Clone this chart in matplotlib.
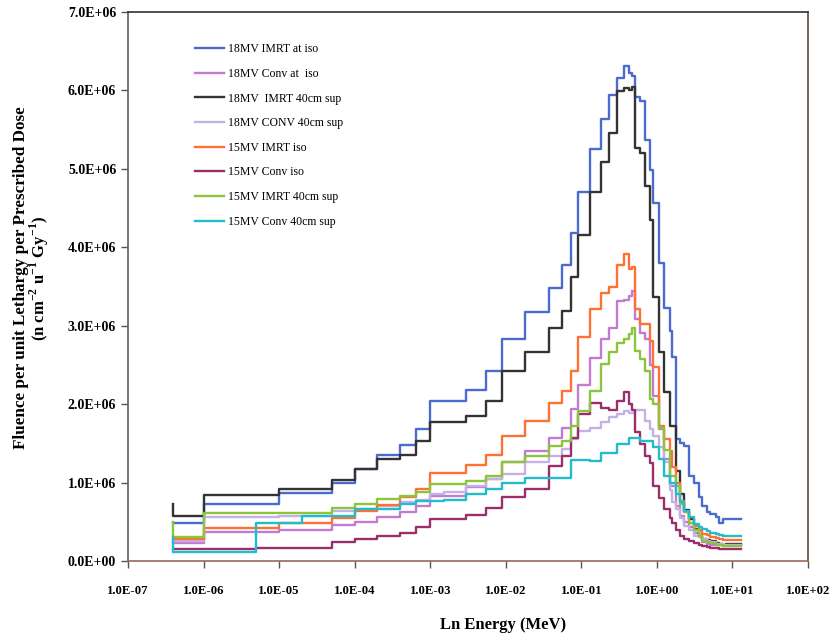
import numpy as np
import matplotlib
matplotlib.use("Agg")
import matplotlib.pyplot as plt
from matplotlib.ticker import FixedLocator, FuncFormatter, NullLocator

# energy bin edges (MeV)
edges = [4e-7, 1e-6, 5e-6, 1e-5, 2e-5, 5e-5, 1e-4, 2e-4, 4e-4, 6.5e-4, 1e-3,
         1.5e-3, 3e-3, 5.5e-3, 9e-3, 1.8e-2, 3.7e-2, 5.5e-2, 7.4e-2, 9e-2,
         0.13, 0.18, 0.23, 0.3, 0.37, 0.43, 0.47, 0.52, 0.6, 0.7, 0.8, 0.9,
         1.07, 1.25, 1.5, 1.6, 1.8, 2.0, 2.3, 2.7, 3.1, 3.6, 4.0, 4.6, 5.0,
         6.0, 6.7, 7.4, 8.3, 13.0]

# fluence per bin, x 1e6
imrt18_iso = [0.49, 0.73, 0.73, 0.87, 0.87, 1.00, 1.17, 1.35, 1.48, 1.68,
              2.04, 2.04, 2.18, 2.42, 2.83, 3.17, 3.48, 3.77, 4.18, 4.71,
              5.25, 5.63, 5.94, 6.16, 6.31, 6.22, 6.18, 5.91, 5.86, 5.37,
              4.99, 4.57, 3.80, 3.23, 2.93, 2.60, 1.55, 1.51, 1.47, 1.09,
              1.00, 0.81, 0.70, 0.63, 0.60, 0.56, 0.49, 0.53, 0.53]
conv18_iso = [0.23, 0.37, 0.37, 0.40, 0.40, 0.46, 0.50, 0.56, 0.62, 0.70,
              0.83, 0.83, 0.94, 1.04, 1.26, 1.40, 1.57, 1.70, 1.94, 2.25,
              2.59, 2.83, 2.97, 3.31, 3.33, 3.38, 3.44, 3.08, 2.91, 2.83,
              2.50, 2.10, 1.68, 1.30, 0.96, 0.96, 0.70, 0.58, 0.50, 0.43,
              0.36, 0.30, 0.24, 0.22, 0.21, 0.20, 0.20, 0.20, 0.20]
imrt18_sup = [0.57, 0.84, 0.84, 0.92, 0.92, 1.03, 1.17, 1.30, 1.35, 1.53,
              1.77, 1.77, 1.85, 2.04, 2.42, 2.66, 2.97, 3.19, 3.62, 4.16,
              4.71, 5.09, 5.46, 5.99, 6.03, 6.01, 6.05, 5.27, 5.20, 4.78,
              4.35, 3.36, 2.66, 2.15, 1.72, 1.72, 1.15, 0.85, 0.65, 0.53,
              0.41, 0.32, 0.28, 0.27, 0.25, 0.23, 0.22, 0.21, 0.22]
conv18_sup = [0.26, 0.56, 0.56, 0.58, 0.58, 0.64, 0.66, 0.70, 0.75, 0.78,
              0.85, 0.88, 0.95, 1.04, 1.11, 1.26, 1.34, 1.43, 1.55, 1.66,
              1.70, 1.77, 1.83, 1.87, 1.91, 1.89, 1.89, 1.93, 1.93, 1.79,
              1.68, 1.60, 1.45, 1.26, 0.90, 0.75, 0.66, 0.55, 0.45, 0.39,
              0.32, 0.30, 0.28, 0.26, 0.24, 0.22, 0.22, 0.21, 0.21]
imrt15_iso = [0.28, 0.42, 0.42, 0.49, 0.49, 0.55, 0.64, 0.72, 0.81, 0.92,
              1.12, 1.12, 1.23, 1.35, 1.59, 1.79, 2.02, 2.17, 2.42, 2.85,
              3.21, 3.42, 3.50, 3.78, 3.91, 3.72, 3.75, 3.21, 3.02, 3.02,
              2.80, 2.47, 1.72, 1.55, 1.40, 1.20, 1.00, 0.77, 0.62, 0.49,
              0.45, 0.39, 0.35, 0.33, 0.30, 0.29, 0.28, 0.27, 0.27]
conv15_iso = [0.15, 0.15, 0.16, 0.17, 0.17, 0.24, 0.28, 0.32, 0.36, 0.43,
              0.53, 0.53, 0.59, 0.68, 0.81, 0.92, 1.21, 1.34, 1.57, 1.87,
              2.02, 1.95, 1.93, 2.04, 2.15, 2.00, 1.93, 1.64, 1.49, 1.34,
              1.25, 0.96, 0.80, 0.66, 0.55, 0.49, 0.39, 0.32, 0.28, 0.25,
              0.23, 0.21, 0.19, 0.18, 0.17, 0.16, 0.15, 0.15, 0.15]
imrt15_sup = [0.30, 0.61, 0.61, 0.61, 0.61, 0.68, 0.73, 0.79, 0.83, 0.88,
              0.98, 0.98, 1.02, 1.09, 1.26, 1.34, 1.47, 1.53, 1.72, 1.91,
              2.17, 2.51, 2.66, 2.78, 2.83, 2.89, 2.97, 2.68, 2.57, 2.42,
              2.06, 2.00, 1.70, 1.42, 1.09, 1.09, 0.96, 0.73, 0.62, 0.49,
              0.39, 0.32, 0.26, 0.24, 0.23, 0.21, 0.20, 0.19, 0.19]
conv15_sup = [0.12, 0.12, 0.49, 0.49, 0.58, 0.58, 0.66, 0.66, 0.73, 0.76,
              0.76, 0.78, 0.85, 0.92, 1.00, 1.06, 1.06, 1.06, 1.29, 1.29,
              1.28, 1.38, 1.38, 1.49, 1.49, 1.57, 1.57, 1.57, 1.53, 1.53,
              1.53, 1.45, 1.30, 1.09, 1.00, 1.00, 0.85, 0.75, 0.64, 0.56,
              0.47, 0.43, 0.41, 0.38, 0.36, 0.34, 0.33, 0.32, 0.32]

# first plotted point (line starts above the first bin for some series)
start_vals = [None, None, 0.73, None, None, None, 0.50, 0.31]

labels = ["18MV IMRT at iso", "18MV Conv at  iso", "18MV  IMRT 40cm sup",
          "18MV CONV 40cm sup", "15MV IMRT iso", "15MV Conv iso",
          "15MV IMRT 40cm sup", "15MV Conv 40cm sup"]
colors = ["#4a6cd0", "#c27ad2", "#333333", "#c4b2e6",
          "#ff7033", "#9b2f6c", "#8cc43c", "#22bccc"]
series = [imrt18_iso, conv18_iso, imrt18_sup, conv18_sup,
          imrt15_iso, conv15_iso, imrt15_sup, conv15_sup]

plt.rcParams['font.family'] = ['Liberation Serif', 'DejaVu Serif']
plt.rcParams['mathtext.fontset'] = 'custom'
plt.rcParams['mathtext.rm'] = 'Liberation Serif'
plt.rcParams['mathtext.bf'] = 'Liberation Serif:bold'

fig = plt.figure(figsize=(8.32, 6.37), dpi=100)
ax = fig.add_axes([128 / 832, 1 - 561 / 637, 680 / 832, 549 / 637])

e = np.array(edges)
for vals, st, lab, col in zip(series, start_vals, labels, colors):
    v = np.array(vals) * 1e6
    x = np.repeat(e, 2)[1:-1]
    y = np.repeat(v, 2)
    if st is not None:
        x = np.concatenate([[e[0]], x])
        y = np.concatenate([[st * 1e6], y])
    ax.plot(x, y, color=col, lw=1.7, label=lab)

ax.set_xscale('log')
ax.set_xlim(1e-7, 1e2)
ax.set_ylim(0, 7e6)
ax.xaxis.set_major_locator(FixedLocator([10.0 ** k for k in range(-7, 3)]))
ax.xaxis.set_minor_locator(NullLocator())
ax.xaxis.set_major_formatter(FuncFormatter(lambda v, p: "%.1E" % v))
ax.set_yticks(np.arange(0, 8) * 1e6)
ax.yaxis.set_major_formatter(FuncFormatter(lambda v, p: "%.1E" % v))
ax.tick_params(axis='both', direction='out', length=5, width=1,
               color='#555555')
ax.tick_params(axis='x', pad=12, labelsize=9.2)
ax.tick_params(axis='y', labelsize=10)
for lbl in ax.get_xticklabels() + ax.get_yticklabels():
    lbl.set_fontweight('bold')

ax.spines['left'].set_color('#556070')
ax.spines['bottom'].set_color('#9a6a5a')
ax.spines['top'].set_color('#3a3030')
ax.spines['right'].set_color('#5a4a40')
for s in ax.spines.values():
    s.set_linewidth(1.2)

leg = ax.legend(loc='upper left', bbox_to_anchor=(0.099, 0.943),
                frameon=False, fontsize=8.5, handlelength=2.4,
                handletextpad=0.35, labelspacing=1.07, borderpad=0,
                borderaxespad=0)

fig.text(503 / 832, 1 - 625 / 637, "Ln Energy (MeV)", ha='center',
         va='center', fontsize=12, fontweight='bold')
fig.text(21 / 832, 1 - 278 / 637,
         "Fluence per unit Lethargy per Prescribed Dose", rotation=90,
         ha='center', va='center', fontsize=12.3, fontweight='bold')
fig.text(39 / 832, 1 - 278 / 637,
         "(n cm$^{\\mathbf{-2}}$ u$^{\\mathbf{-1}}$ Gy$^{\\mathbf{-1}}$)",
         rotation=90, ha='center', va='center', fontsize=12,
         fontweight='bold')

fig.savefig("out.png", dpi=100)
